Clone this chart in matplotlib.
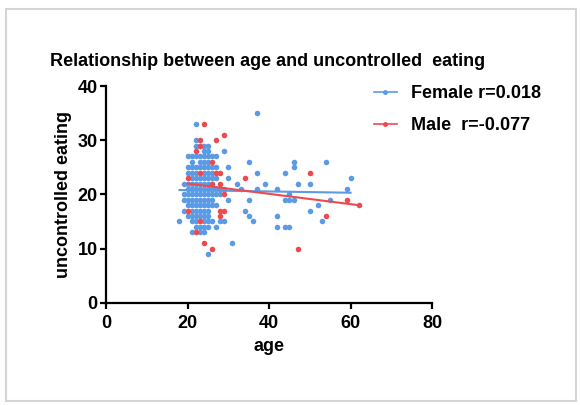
import matplotlib
matplotlib.use("Agg")
import matplotlib.pyplot as plt
from matplotlib.patches import Rectangle
from matplotlib.lines import Line2D

# data (age, uncontrolled eating score)
female_age = ([18] + [19] * 4 + [20] * 9 + [21] * 14 + [22] * 16 + [23] * 14
              + [24] * 17 + [25] * 17 + [26] * 10 + [27] * 7 + [28] * 3 + [29] * 3
              + [30, 30, 30, 31, 32, 33, 34, 35, 35, 35, 36, 37, 37, 37, 39,
                 42, 42, 42, 44, 44, 44, 45, 45, 45, 46, 46, 46, 47, 50, 50,
                 52, 53, 54, 55, 59, 60])
female_score = ([15]
                + [17, 19, 20, 22]
                + [16, 18, 19, 20, 21, 22, 24, 25, 27]
                + [13, 15, 16, 17, 18, 19, 20, 21, 22, 23, 24, 25, 26, 27]
                + [14, 15, 16, 17, 18, 19, 20, 21, 22, 23, 24, 25, 27, 29, 30, 33]
                + [13, 14, 16, 17, 18, 19, 20, 21, 22, 23, 25, 26, 27, 29]
                + [13, 14, 15, 16, 17, 18, 19, 20, 21, 22, 23, 24, 25, 26, 27, 28, 29]
                + [9, 14, 15, 16, 17, 18, 19, 20, 21, 22, 23, 24, 25, 26, 27, 28, 29]
                + [15, 18, 19, 20, 21, 22, 23, 24, 25, 27]
                + [14, 18, 20, 21, 23, 25, 27]
                + [15, 20, 21]
                + [15, 21, 28]
                + [25, 23, 19, 11, 22, 21, 17, 26, 19, 16, 15, 35, 24, 21, 22,
                   21, 16, 14, 24, 19, 14, 14, 20, 19, 19, 26, 25, 22, 22, 17,
                   18, 15, 26, 19, 21, 23])

male_age = [24, 29, 27, 23, 23, 22, 26, 24, 23, 22, 20, 20, 26, 27, 28, 28,
            29, 28, 29, 28, 23, 26, 34, 47, 50, 54, 59, 62]
male_score = [33, 31, 30, 29, 30, 28, 10, 11, 15, 13, 17, 23, 26, 24, 24, 22,
              20, 17, 17, 16, 24, 22, 23, 10, 24, 16, 19, 18]

# regression lines as drawn
female_fit_x = [18, 60]
female_fit_y = [20.8, 20.3]
male_fit_x = [20, 62]
male_fit_y = [22.0, 18.0]

blue = '#5b9be6'
red = '#ec4a50'

plt.rcParams['font.family'] = ['Liberation Sans', 'DejaVu Sans']
plt.rcParams['font.weight'] = 'bold'

fig = plt.figure(figsize=(5.8, 4.05), dpi=100)
ax = fig.add_axes([0.183, 0.2526, 0.562, 0.535])

ax.scatter(female_age, female_score, s=16, color=blue, linewidths=0, zorder=2)
ax.scatter(male_age, male_score, s=16, color=red, linewidths=0, zorder=3)
ax.plot(female_fit_x, female_fit_y, color=blue, lw=1.5, zorder=4)
ax.plot(male_fit_x, male_fit_y, color=red, lw=1.5, zorder=4)

ax.set_xlim(0, 80)
ax.set_ylim(0, 40)
ax.set_xticks([0, 20, 40, 60, 80])
ax.set_yticks([0, 10, 20, 30, 40])
for s in ['top', 'right']:
    ax.spines[s].set_visible(False)
for s in ['left', 'bottom']:
    ax.spines[s].set_linewidth(1.6)
ax.tick_params(direction='out', length=4, width=1.6, labelsize=13)
ax.tick_params(axis='x', pad=5)
ax.tick_params(axis='y', pad=2)
for lab in ax.get_xticklabels() + ax.get_yticklabels():
    lab.set_fontweight('bold')

ax.set_xlabel('age', fontsize=13, fontweight='bold', labelpad=4)
ax.set_ylabel('uncontrolled eating', fontsize=13, fontweight='bold', labelpad=4)

fig.text(0.086, 0.847, 'Relationship between age and uncontrolled  eating',
         fontsize=13, fontweight='bold', va='center', ha='left')

handles = [Line2D([], [], color=blue, lw=1.2, marker='o', markersize=2.5),
           Line2D([], [], color=red, lw=1.2, marker='o', markersize=2.5)]
fig.legend(handles, ['Female r=0.018', 'Male  r=-0.077'], loc='upper left',
           bbox_to_anchor=(0.616, 0.83), frameon=False,
           handlelength=1.3, labelspacing=0.85, handletextpad=0.75,
           prop={'weight': 'bold', 'size': 13})

# light frame around the picture
fig.patches.append(Rectangle((0.01, 0.01), 0.983, 0.968, transform=fig.transFigure,
                             fill=False, edgecolor='#d4d4d4', lw=1.5))

fig.savefig('out.png', dpi=100)
